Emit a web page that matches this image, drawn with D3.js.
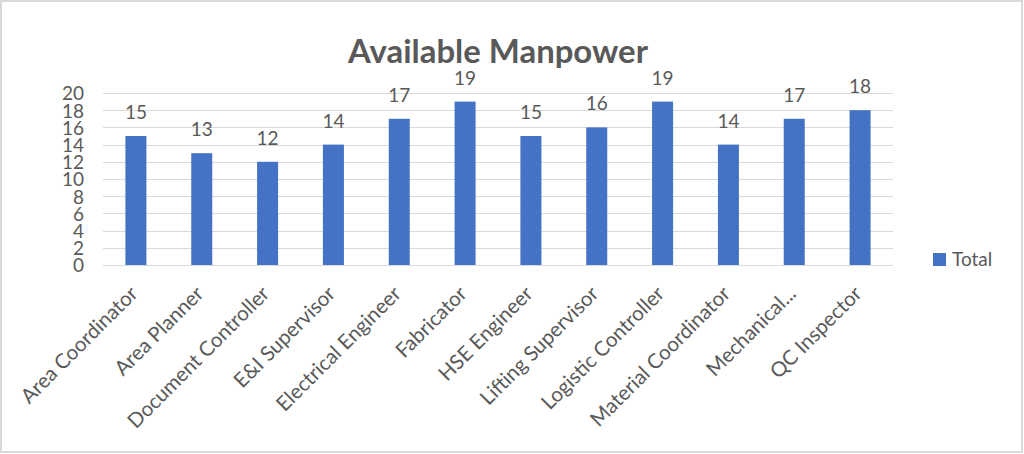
<!DOCTYPE html>
<html>
<head>
<meta charset="utf-8">
<script src="https://cdn.jsdelivr.net/npm/d3@7"></script>
<style>
  body { margin: 0; background: #fff; }
  svg { display: block; font-family: Lato, "Open Sans", sans-serif; }
</style>
</head>
<body>
<div class="chart"></div>
<script>
// chart data
var categories = ["Area Coordinator", "Area Planner", "Document Controller", "E&I Supervisor",
  "Electrical Engineer", "Fabricator", "HSE Engineer", "Lifting Supervisor",
  "Logistic Controller", "Material Coordinator", "Mechanical...", "QC Inspector"];
var totals = [15, 13, 12, 14, 17, 19, 15, 16, 19, 14, 17, 18];
var yTicks = [0, 2, 4, 6, 8, 10, 12, 14, 16, 18, 20];
var seriesName = "Total";
var title = "Available Manpower";

var width = 1024, height = 454;
var textColor = "#595959";
var barColor = "#4472C4";

var svg = d3.select('.chart').append('svg').attr('width', width).attr('height', height);

// outer border
svg.append('rect').attr('x', 1).attr('y', 1).attr('width', 1021).attr('height', 451)
  .attr('fill', '#fff').attr('stroke', '#d9d9d9').attr('stroke-width', 2);

var xScale = d3.scaleBand().domain(categories).range([103, 893]);
var yScale = d3.scaleLinear().domain([0, 20]).range([265, 93]);

// gridlines
svg.append('g').selectAll('line').data(yTicks).enter().append('line')
  .attr('x1', 103).attr('x2', 893)
  .attr('y1', d => Math.round(yScale(d)) + 0.5).attr('y2', d => Math.round(yScale(d)) + 0.5)
  .attr('stroke', '#d9d9d9').attr('stroke-width', 1);

// y axis labels
var yAxis = svg.append('g').attr('transform', 'translate(92,0)')
  .call(d3.axisLeft(yScale).tickValues(yTicks).tickSize(0).tickPadding(0));
yAxis.attr('font-family', null).attr('font-size', null);
yAxis.select('.domain').remove();
yAxis.selectAll('text').attr('fill', textColor).style('font-size', '19px')
  .attr('text-anchor', 'end').attr('dy', '0.36em').attr('x', -8);

// bars
var barW = 21;
svg.append('g').selectAll('rect').data(totals).enter().append('rect')
  .attr('x', (d, i) => xScale(categories[i]) + xScale.bandwidth() / 2 - barW / 2)
  .attr('y', d => yScale(d))
  .attr('width', barW)
  .attr('height', d => yScale(0) - yScale(d))
  .attr('fill', barColor);

// data labels
svg.append('g').selectAll('text').data(totals).enter().append('text')
  .attr('x', (d, i) => xScale(categories[i]) + xScale.bandwidth() / 2)
  .attr('y', d => yScale(d) - 17)
  .attr('text-anchor', 'middle')
  .attr('fill', textColor).style('font-size', '19px')
  .text(d => d);

// x axis labels
var xAxis = svg.append('g').attr('transform', 'translate(0,265)')
  .call(d3.axisBottom(xScale).tickSize(0).tickPadding(0));
xAxis.attr('font-family', null).attr('font-size', null);
xAxis.select('.domain').remove();
xAxis.selectAll('text')
  .attr('fill', textColor).style('font-size', '20.5px')
  .attr('text-anchor', 'end')
  .attr('dy', null).attr('y', 0)
  .attr('transform', 'translate(3,30) rotate(-45)');

// title
var t = svg.append('text').attr('x', 498).attr('y', 63).attr('text-anchor', 'middle')
  .attr('fill', textColor).style('font-size', '26px').style('font-weight', 'bold')
  .text(title);
var tw = t.node().getComputedTextLength();
t.style('font-size', (26 * 300 / tw) + 'px');

// legend
var legend = svg.append('g').attr('transform', 'translate(933,253)');
legend.append('rect').attr('width', 13).attr('height', 13).attr('fill', barColor);
legend.append('text').attr('x', 19).attr('y', 13).attr('fill', textColor)
  .style('font-size', '19px').text(seriesName);
</script>
</body>
</html>
